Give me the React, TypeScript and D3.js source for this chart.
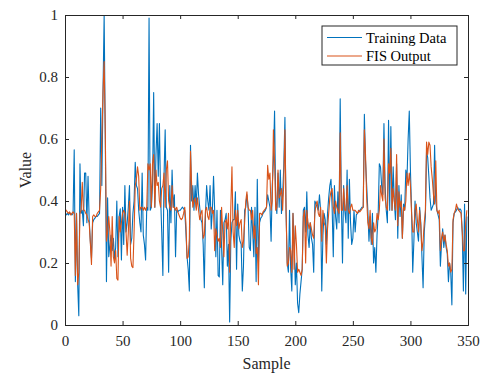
import { useEffect, useRef } from 'react';
import * as d3 from 'd3';

// Training data (blue), sample 0..349
const trainingData = [
  0.355, 0.355, 0.36, 0.355, 0.36, 0.36, 0.355, 0.36, 0.565, 0.14,
  0.36, 0.13, 0.03, 0.52, 0.36, 0.37, 0.32, 0.49, 0.49, 0.33,
  0.48, 0.34, 0.27, 0.215, 0.33, 0.34, 0.345, 0.35, 0.35, 0.355,
  0.36, 0.7, 0.45, 0.75, 1.0, 0.6, 0.14, 0.41, 0.22, 0.26,
  0.29, 0.24, 0.28, 0.215, 0.25, 0.4, 0.22, 0.35, 0.375, 0.21,
  0.38, 0.26, 0.45, 0.3, 0.33, 0.38, 0.45, 0.26, 0.28, 0.36,
  0.4, 0.525, 0.45, 0.44, 0.37, 0.33, 0.3, 0.49, 0.29, 0.26,
  0.21, 0.38, 0.37, 0.99, 0.37, 0.38, 0.45, 0.75, 0.38, 0.55,
  0.65, 0.48, 0.65, 0.42, 0.3, 0.16, 0.48, 0.63, 0.38, 0.37,
  0.17, 0.45, 0.33, 0.5, 0.38, 0.42, 0.22, 0.37, 0.365, 0.37,
  0.37, 0.375, 0.38, 0.375, 0.37, 0.3, 0.22, 0.18, 0.11, 0.58,
  0.4, 0.45, 0.37, 0.45, 0.38, 0.49, 0.42, 0.38, 0.34, 0.33,
  0.26, 0.12, 0.36, 0.45, 0.4, 0.37, 0.45, 0.31, 0.37, 0.48,
  0.37, 0.22, 0.37, 0.16, 0.155, 0.37, 0.25, 0.13, 0.33, 0.34,
  0.36, 0.19, 0.26, 0.01, 0.27, 0.33, 0.34, 0.34, 0.43, 0.18,
  0.39, 0.29, 0.27, 0.26, 0.11, 0.19, 0.37, 0.38, 0.42, 0.38,
  0.25, 0.24, 0.38, 0.3, 0.22, 0.38, 0.14, 0.47, 0.2, 0.33,
  0.345, 0.35, 0.36, 0.365, 0.37, 0.38, 0.42, 0.4, 0.38, 0.27,
  0.45, 0.53, 0.69, 0.4, 0.36, 0.49, 0.38, 0.5, 0.36, 0.42,
  0.51, 0.67, 0.36, 0.2, 0.17, 0.37, 0.18, 0.11, 0.36, 0.28,
  0.13, 0.2, 0.07, 0.04, 0.1, 0.14, 0.18, 0.37, 0.38, 0.3,
  0.43, 0.29, 0.25, 0.33, 0.28, 0.26, 0.17, 0.4, 0.39, 0.38,
  0.37, 0.42, 0.37, 0.11, 0.29, 0.36, 0.34, 0.26, 0.36, 0.41,
  0.45, 0.47, 0.38, 0.22, 0.45, 0.35, 0.31, 0.43, 0.33, 0.73,
  0.4, 0.2, 0.45, 0.37, 0.33, 0.5, 0.28, 0.47, 0.33, 0.26,
  0.28, 0.37, 0.3, 0.355, 0.36, 0.365, 0.37, 0.375, 0.38, 0.38,
  0.68, 0.53, 0.45, 0.37, 0.27, 0.35, 0.26, 0.36, 0.2, 0.25,
  0.17, 0.29, 0.36, 0.52, 0.51, 0.45, 0.42, 0.65, 0.45, 0.37,
  0.33, 0.66, 0.37, 0.64, 0.37, 0.51, 0.4, 0.34, 0.52, 0.28,
  0.45, 0.35, 0.42, 0.28, 0.39, 0.37, 0.5, 0.47, 0.6, 0.69,
  0.5, 0.37, 0.17, 0.27, 0.4, 0.33, 0.3, 0.27, 0.38, 0.33,
  0.22, 0.12, 0.3, 0.35, 0.56, 0.54, 0.48, 0.41, 0.37, 0.38,
  0.39, 0.58, 0.4, 0.37, 0.355, 0.34, 0.19, 0.26, 0.31, 0.25,
  0.29, 0.25, 0.23, 0.14, 0.2, 0.17, 0.065, 0.33, 0.36, 0.365,
  0.37, 0.38, 0.37, 0.375, 0.37, 0.3, 0.11, 0.39, 0.1, 0.35,
];

// FIS output (orange)
const fisOutput = [
  0.375, 0.37, 0.365, 0.36, 0.365, 0.355, 0.36, 0.365, 0.36, 0.16,
  0.36, 0.13, 0.17, 0.36, 0.37, 0.46, 0.37, 0.37, 0.36, 0.355,
  0.34, 0.33, 0.265, 0.195, 0.35, 0.355, 0.35, 0.35, 0.36, 0.365,
  0.37, 0.44, 0.6, 0.75, 0.85, 0.62, 0.27, 0.3, 0.35, 0.3,
  0.19, 0.35, 0.22, 0.2, 0.24, 0.15, 0.145, 0.35, 0.3, 0.33,
  0.36, 0.37, 0.36, 0.3, 0.225, 0.3, 0.4, 0.215, 0.19, 0.185,
  0.3, 0.45, 0.47, 0.51, 0.48, 0.37, 0.38, 0.38, 0.37, 0.38,
  0.37, 0.38, 0.52, 0.5, 0.52, 0.38, 0.52, 0.55, 0.38, 0.5,
  0.45, 0.46, 0.4, 0.38, 0.44, 0.45, 0.49, 0.38, 0.5, 0.53,
  0.4, 0.38, 0.37, 0.45, 0.38, 0.38, 0.37, 0.38, 0.365, 0.355,
  0.345, 0.34, 0.345, 0.36, 0.38, 0.33, 0.215, 0.22, 0.28, 0.56,
  0.45, 0.38, 0.4, 0.41, 0.37, 0.41, 0.37, 0.34, 0.36, 0.37,
  0.28, 0.29, 0.37, 0.38, 0.35, 0.34, 0.38, 0.38, 0.36, 0.37,
  0.24, 0.31, 0.29, 0.27, 0.28, 0.25, 0.38, 0.3, 0.22, 0.33,
  0.34, 0.31, 0.36, 0.17, 0.38, 0.51, 0.3, 0.25, 0.37, 0.32,
  0.37, 0.31, 0.33, 0.34, 0.25, 0.27, 0.33, 0.4, 0.43, 0.38,
  0.37, 0.37, 0.34, 0.37, 0.28, 0.32, 0.23, 0.25, 0.13, 0.36,
  0.36, 0.355, 0.365, 0.37, 0.375, 0.38, 0.515, 0.47, 0.49, 0.37,
  0.4, 0.63, 0.53, 0.37, 0.38, 0.5, 0.41, 0.42, 0.44, 0.37,
  0.46, 0.63, 0.37, 0.19, 0.2, 0.25, 0.24, 0.17, 0.36, 0.18,
  0.32, 0.26, 0.17, 0.18, 0.17, 0.16, 0.18, 0.35, 0.37, 0.2,
  0.37, 0.33, 0.31, 0.33, 0.31, 0.29, 0.28, 0.36, 0.39, 0.4,
  0.36, 0.35, 0.38, 0.27, 0.37, 0.33, 0.32, 0.2, 0.31, 0.36,
  0.41, 0.43, 0.44, 0.38, 0.36, 0.4, 0.38, 0.37, 0.36, 0.62,
  0.37, 0.37, 0.44, 0.37, 0.37, 0.45, 0.37, 0.36, 0.38, 0.39,
  0.37, 0.37, 0.37, 0.365, 0.36, 0.37, 0.365, 0.37, 0.375, 0.38,
  0.63, 0.55, 0.41, 0.33, 0.31, 0.37, 0.28, 0.26, 0.33, 0.3,
  0.31, 0.36, 0.34, 0.37, 0.45, 0.42, 0.4, 0.6, 0.41, 0.38,
  0.37, 0.52, 0.49, 0.57, 0.37, 0.44, 0.4, 0.37, 0.55, 0.32,
  0.43, 0.38, 0.4, 0.28, 0.38, 0.37, 0.4, 0.49, 0.45, 0.49,
  0.45, 0.36, 0.3, 0.3, 0.37, 0.39, 0.34, 0.3, 0.37, 0.32,
  0.24, 0.27, 0.33, 0.37, 0.59, 0.55, 0.59, 0.58, 0.51, 0.47,
  0.42, 0.39, 0.53, 0.37, 0.36, 0.37, 0.24, 0.28, 0.3, 0.27,
  0.29, 0.26, 0.24, 0.19, 0.2, 0.17, 0.18, 0.34, 0.36, 0.37,
  0.39, 0.375, 0.37, 0.365, 0.36, 0.3, 0.24, 0.24, 0.33, 0.37,
];

const xTicks = [0, 50, 100, 150, 200, 250, 300, 350];
const yTicks = [0, 0.2, 0.4, 0.6, 0.8, 1];
const seriesNames = ['Training Data', 'FIS Output'];
const seriesColors = ['#0072BD', '#D95319'];

const WIDTH = 485;
const HEIGHT = 374;
const FONT = 'Liberation Serif';

export default function App() {
  const svgRef = useRef<SVGSVGElement>(null);

  useEffect(() => {
    if (!svgRef.current) return;
    const svg = d3.select(svgRef.current);
    svg.selectAll('*').remove();

    const margin = { top: 15, right: 17, bottom: 49, left: 65 };
    const w = WIDTH - margin.left - margin.right;
    const h = HEIGHT - margin.top - margin.bottom;

    const x = d3.scaleLinear().domain([0, 350]).range([0, w]);
    const y = d3.scaleLinear().domain([0, 1]).range([h, 0]);

    svg.append('rect').attr('width', WIDTH).attr('height', HEIGHT).attr('fill', '#fff');

    const g = svg.append('g').attr('transform', `translate(${margin.left},${margin.top})`);

    g.append('clipPath').attr('id', 'plot-clip')
      .append('rect').attr('width', w).attr('height', h);

    // series lines
    const line = d3.line<number>()
      .x((_, i) => x(i))
      .y(d => y(d));

    [trainingData, fisOutput].forEach((series, k) => {
      g.append('path')
        .datum(series)
        .attr('clip-path', 'url(#plot-clip)')
        .attr('fill', 'none')
        .attr('stroke', seriesColors[k])
        .attr('stroke-width', 1.1)
        .attr('stroke-linejoin', 'round')
        .attr('d', line);
    });

    // axes: ticks point inward, box drawn all round
    const axisColor = '#262626';
    const tickLen = 4;

    const xAxis = g.append('g').attr('transform', `translate(0,${h})`)
      .call(d3.axisBottom(x).tickValues(xTicks).tickSize(-tickLen).tickPadding(10).tickFormat(d3.format('d')));
    const xTop = g.append('g')
      .call(d3.axisTop(x).tickValues(xTicks).tickSize(-tickLen).tickFormat(() => ''));
    const yAxis = g.append('g')
      .call(d3.axisLeft(y).tickValues(yTicks).tickSize(-tickLen).tickPadding(7).tickFormat(d => `${d}`));
    const yRight = g.append('g').attr('transform', `translate(${w},0)`)
      .call(d3.axisRight(y).tickValues(yTicks).tickSize(-tickLen).tickFormat(() => ''));

    [xAxis, xTop, yAxis, yRight].forEach(a => {
      a.attr('font-family', FONT).attr('font-size', 15);
      a.select('.domain').attr('stroke', axisColor).attr('stroke-width', 1);
      a.selectAll('.tick line').attr('stroke', axisColor);
      a.selectAll('text').attr('fill', axisColor);
    });

    // axis labels
    g.append('text')
      .attr('x', w / 2)
      .attr('y', h + 44)
      .attr('text-anchor', 'middle')
      .attr('fill', axisColor)
      .attr('font-family', FONT)
      .attr('font-size', 16)
      .text('Sample');

    g.append('text')
      .attr('transform', 'rotate(-90)')
      .attr('x', -(170 - margin.top))
      .attr('y', -34)
      .attr('text-anchor', 'middle')
      .attr('fill', axisColor)
      .attr('font-family', FONT)
      .attr('font-size', 16)
      .text('Value');

    // legend
    const legend = svg.append('g').attr('transform', 'translate(322,26)');
    legend.append('rect')
      .attr('width', 135)
      .attr('height', 39)
      .attr('fill', '#fff')
      .attr('stroke', axisColor)
      .attr('stroke-width', 1);

    seriesNames.forEach((name, i) => {
      const cy = 11.5 + i * 18.5;
      legend.append('line')
        .attr('x1', 5).attr('x2', 40)
        .attr('y1', cy).attr('y2', cy)
        .attr('stroke', seriesColors[i])
        .attr('stroke-width', 1.1);
      legend.append('text')
        .attr('x', 44)
        .attr('y', cy + 5)
        .attr('fill', '#000')
        .attr('font-family', FONT)
        .attr('font-size', 14.5)
        .text(name);
    });
  }, []);

  return (
    <svg
      ref={svgRef}
      width={WIDTH}
      height={HEIGHT}
      style={{ position: 'absolute', left: 0, top: 0 }}
    />
  );
}
